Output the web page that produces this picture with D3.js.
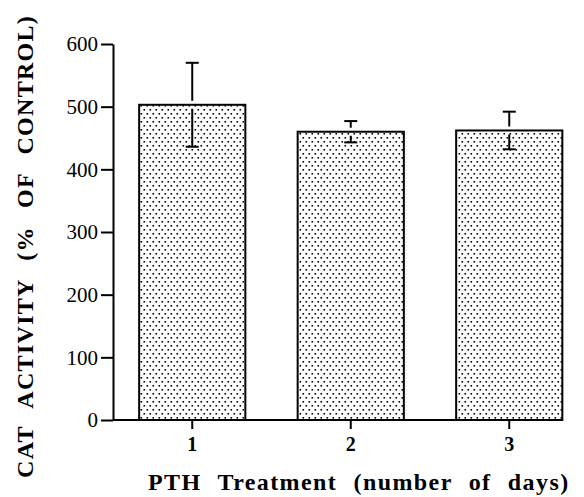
<!DOCTYPE html>
<html>
<head>
<meta charset="utf-8">
<script src="https://cdn.jsdelivr.net/npm/d3@7"></script>
<style>
  body { margin: 0; background: #fff; }
</style>
</head>
<body>
<div id="chart"></div>
<script>
// data
const days = ["1", "2", "3"];
const activity = [503, 460, 462];
const sem = [67, 17, 30];
const yTicks = [0, 100, 200, 300, 400, 500, 600];

const W = 584, H = 497;
const margin = { top: 44, right: 0, bottom: 77, left: 113 };
const height = H - margin.top - margin.bottom;
const serif = "'Liberation Serif', 'Times New Roman', serif";

const svg = d3.select("#chart").append("svg")
    .attr("width", W)
    .attr("height", H);

// dotted fill like the printed figure
const defs = svg.append("defs");
const pat = defs.append("pattern")
    .attr("id", "dots")
    .attr("patternUnits", "userSpaceOnUse")
    .attr("width", 6)
    .attr("height", 8);
pat.append("rect").attr("width", 6).attr("height", 8).attr("fill", "#fff");
pat.append("rect").attr("x", 0.5).attr("y", 1).attr("width", 1.6).attr("height", 1.6).attr("fill", "#000");
pat.append("rect").attr("x", 3.5).attr("y", 5).attr("width", 1.6).attr("height", 1.6).attr("fill", "#000");

const g = svg.append("g")
    .attr("transform", "translate(" + margin.left + "," + margin.top + ")");

let x = d3.scaleBand()
    .domain(days)
    .range([0, 475.5])
    .paddingInner(0.33)
    .paddingOuter(0.165);

let y = d3.scaleLinear()
    .domain([0, 600])
    .range([height, 0]);

// bars
g.selectAll(".bar")
    .data(days)
    .enter()
    .append("rect")
    .attr("class", "bar")
    .attr("x", d => x(d))
    .attr("y", (d, i) => y(activity[i]))
    .attr("width", x.bandwidth())
    .attr("height", (d, i) => height - y(activity[i]))
    .attr("fill", "url(#dots)")
    .attr("stroke", "#000")
    .attr("stroke-width", 2);

// error bars, with the little white break where they cross the bar top
const err = g.selectAll(".err")
    .data(days)
    .enter()
    .append("g")
    .attr("class", "err")
    .attr("stroke", "#000")
    .attr("stroke-width", 2);

err.each(function (d, i) {
    const cx = x(d) + x.bandwidth() / 2;
    const top = y(activity[i] + sem[i]);
    const bot = y(activity[i] - sem[i]);
    const barTop = y(activity[i]);
    const e = d3.select(this);
    e.append("line").attr("x1", cx).attr("x2", cx).attr("y1", top).attr("y2", barTop - 4);
    e.append("line").attr("x1", cx).attr("x2", cx).attr("y1", barTop + 4).attr("y2", bot);
    e.append("line").attr("x1", cx - 6.5).attr("x2", cx + 6.5).attr("y1", top).attr("y2", top);
    e.append("line").attr("x1", cx - 6.5).attr("x2", cx + 6.5).attr("y1", bot).attr("y2", bot);
});

// y axis
const yAxis = g.append("g")
    .call(d3.axisLeft(y).tickValues(yTicks).tickSize(12).tickSizeOuter(0).tickPadding(3));
yAxis.attr("font-family", serif);
yAxis.select(".domain").attr("stroke-width", 2);
yAxis.selectAll(".tick line").attr("stroke-width", 2);
yAxis.selectAll(".tick text")
    .attr("font-size", 21)
    .attr("font-family", serif);

// x axis, line stops at the right edge of the last bar
const xAxis = g.append("g")
    .attr("transform", "translate(0," + height + ")")
    .call(d3.axisBottom(x).tickSize(9).tickSizeOuter(0).tickPadding(8));
xAxis.attr("font-family", serif);
xAxis.select(".domain")
    .attr("d", "M0,0H" + (x(days[2]) + x.bandwidth()))
    .attr("stroke-width", 2);
xAxis.selectAll(".tick line").attr("stroke-width", 2);
xAxis.selectAll(".tick text")
    .attr("font-size", 20)
    .attr("font-weight", "bold")
    .attr("font-family", serif);

// axis titles
svg.append("text")
    .attr("x", 148)
    .attr("y", 490)
    .attr("font-family", serif)
    .attr("font-size", 24)
    .attr("font-weight", "bold")
    .attr("word-spacing", 9)
    .attr("letter-spacing", 1.4)
    .text("PTH Treatment (number of days)");

svg.append("text")
    .attr("transform", "translate(33,478) rotate(-90)")
    .attr("font-family", serif)
    .attr("font-size", 24)
    .attr("font-weight", "bold")
    .attr("word-spacing", 11)
    .attr("letter-spacing", 1.3)
    .text("CAT ACTIVITY (% OF CONTROL)");
</script>
</body>
</html>
